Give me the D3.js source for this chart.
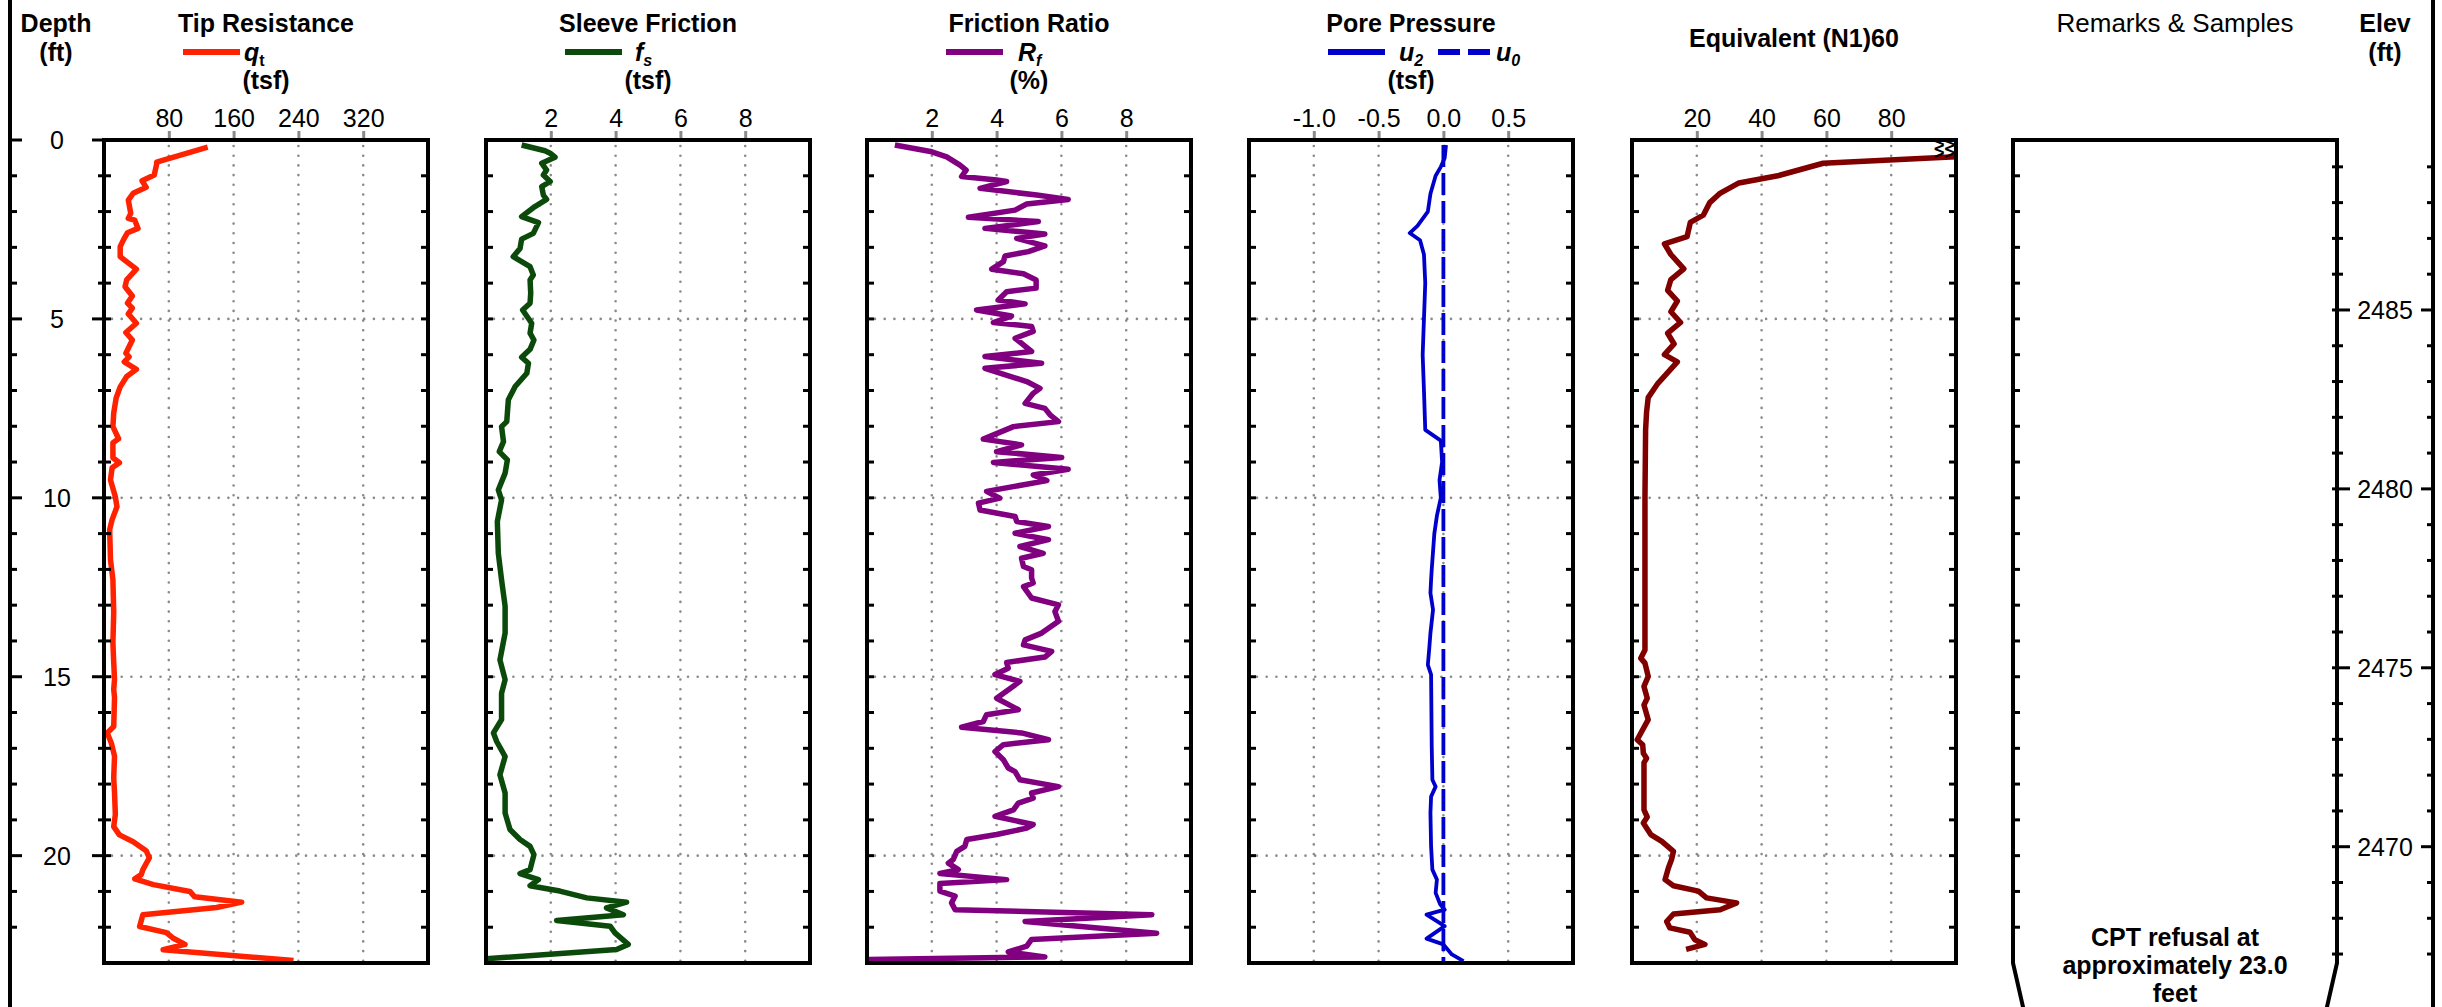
<!DOCTYPE html>
<html>
<head>
<meta charset="utf-8">
<script src="https://cdn.jsdelivr.net/npm/d3@7"></script>
<style>
  body { margin: 0; background: #fff; }
  text { font-family: "Liberation Sans", Arial, sans-serif; }
</style>
</head>
<body>
<div id="chart"></div>
<script>
var width = 2442, height = 1007;
var maxDepth = 23;
var groundElev = 2489.75;

// depth / elevation ticks
var depthLabels = [0, 5, 10, 15, 20];
var elevLabels = [2485, 2480, 2475, 2470];

// each series is [depth (ft), value]
var qt = [[0.2,128],[0.62,65],[0.67,65],[0.98,62],[1.14,47],[1.32,52],[1.49,36],[1.68,30],[2.05,33],[2.19,30],[2.24,38],[2.47,42],[2.59,29],[2.79,24],[2.98,20],[3.26,20],[3.35,25],[3.61,40],[3.91,28],[4.10,26],[4.36,35],[4.56,29],[4.70,35],[4.86,30],[5.12,40],[5.38,27],[5.59,35],[5.96,27],[6.06,31],[6.20,25],[6.41,40],[6.61,28],[6.90,20],[7.21,15],[7.63,12],[8.01,11],[8.35,18],[8.46,11],[8.88,11],[9.02,19],[9.16,10],[9.50,8],[9.97,14],[10.25,16],[10.61,10],[10.89,7],[11.73,8],[12.29,11],[13.2,12],[14.05,11],[14.6,12],[15.08,13],[15.35,12],[15.58,13],[16.39,12],[16.57,4],[16.85,9],[17.22,13],[17.82,12],[18.24,13],[18.85,14],[19.19,12],[19.42,19],[19.61,36],[19.86,52],[20.06,56],[20.39,48],[20.53,46],[20.65,38],[20.81,61],[21.0,106],[21.15,112],[21.3,170],[21.45,139],[21.65,48],[21.98,44],[22.15,77],[22.3,85],[22.48,100],[22.63,73],[22.93,234]];

var fs = [[0.14,1.10],[0.30,1.82],[0.37,1.98],[0.48,2.13],[0.65,1.72],[0.84,1.87],[0.98,1.77],[1.16,1.98],[1.30,1.72],[1.54,1.77],[1.66,1.87],[1.86,1.51],[2.14,1.10],[2.31,1.62],[2.61,1.46],[2.77,1.10],[3.03,1.05],[3.26,0.84],[3.54,1.36],[3.77,1.46],[3.91,1.36],[4.28,1.38],[4.56,1.36],[4.75,1.13],[5.12,1.41],[5.40,1.36],[5.59,1.48],[5.85,1.36],[6.07,1.10],[6.24,1.31],[6.52,1.26],[6.89,0.90],[7.26,0.69],[7.87,0.64],[8.01,0.48],[8.43,0.54],[8.71,0.41],[8.94,0.66],[9.31,0.59],[9.78,0.38],[10.06,0.48],[10.66,0.35],[11.55,0.38],[12.29,0.48],[13.03,0.59],[13.78,0.59],[14.53,0.43],[15.08,0.59],[15.46,0.48],[16.20,0.48],[16.57,0.23],[16.81,0.33],[17.23,0.59],[17.74,0.43],[18.25,0.59],[18.81,0.59],[19.27,0.74],[19.55,1.05],[19.74,1.36],[19.97,1.48],[20.39,1.36],[20.50,1.05],[20.67,1.62],[20.84,1.36],[20.99,2.28],[21.18,3.11],[21.30,4.34],[21.46,3.72],[21.65,4.24],[21.81,2.18],[21.97,3.83],[22.16,3.98],[22.48,4.39],[22.62,4.03],[22.88,0.0]];

var rf = [[0.14,0.86],[0.33,2.0],[0.47,2.46],[0.70,2.87],[0.84,3.06],[1.02,2.92],[1.12,4.0],[1.16,4.31],[1.35,3.49],[1.54,5.24],[1.66,6.21],[1.79,4.93],[1.96,4.57],[2.16,3.13],[2.28,5.29],[2.47,3.64],[2.63,5.49],[2.75,4.62],[2.96,5.49],[3.12,4.98],[3.24,4.26],[3.40,4.21],[3.61,3.85],[3.74,4.83],[3.91,5.22],[4.14,5.22],[4.24,4.31],[4.47,4.05],[4.58,4.88],[4.75,3.38],[4.92,4.46],[5.10,3.90],[5.21,5.08],[5.35,5.13],[5.54,4.57],[5.91,5.08],[6.05,3.64],[6.24,5.39],[6.38,3.64],[6.75,4.93],[6.94,5.34],[7.08,5.13],[7.36,4.88],[7.50,5.49],[7.68,5.65],[7.87,5.91],[8.01,4.52],[8.36,3.59],[8.52,4.77],[8.71,4.00],[8.87,6.01],[9.01,3.90],[9.20,6.21],[9.36,5.13],[9.52,5.55],[9.82,3.69],[10.01,4.10],[10.15,3.44],[10.34,3.49],[10.52,4.57],[10.66,4.62],[10.80,5.60],[10.99,4.57],[11.17,5.60],[11.36,4.72],[11.55,5.44],[11.69,4.77],[11.92,4.83],[12.01,5.08],[12.24,5.08],[12.38,5.13],[12.48,4.83],[12.80,5.08],[12.99,5.91],[13.18,5.80],[13.45,5.91],[13.78,5.39],[13.97,4.88],[14.11,4.83],[14.29,5.70],[14.45,5.49],[14.60,4.31],[14.76,4.36],[14.94,3.95],[15.13,4.72],[15.60,4.00],[15.92,4.67],[16.06,3.69],[16.25,3.59],[16.41,2.92],[16.57,4.77],[16.76,5.60],[16.90,4.21],[17.09,3.95],[17.32,4.21],[17.55,4.36],[17.65,4.57],[17.88,4.72],[18.07,5.91],[18.25,5.08],[18.39,5.13],[18.53,4.67],[18.72,4.52],[18.90,3.95],[19.13,5.13],[19.23,4.93],[19.41,4.00],[19.55,3.08],[19.74,3.02],[19.88,2.77],[20.11,2.66],[20.21,2.51],[20.39,2.82],[20.50,2.25],[20.67,4.31],[20.78,2.25],[20.99,2.25],[21.13,2.72],[21.32,2.61],[21.51,2.72],[21.65,8.79],[21.84,4.88],[22.17,8.94],[22.34,5.08],[22.53,4.93],[22.69,4.36],[22.83,5.49],[22.9,0.04]];

var u2 = [[0.14,0.02],[0.5,0.01],[0.75,-0.02],[1.0,-0.06],[1.5,-0.10],[2.0,-0.12],[2.4,-0.20],[2.6,-0.26],[2.8,-0.18],[3.2,-0.15],[4.0,-0.14],[5.0,-0.15],[6.0,-0.16],[7.0,-0.15],[8.1,-0.14],[8.4,-0.02],[9.0,-0.01],[9.5,-0.03],[10.0,-0.02],[10.5,-0.05],[11.0,-0.07],[12.0,-0.09],[12.29,-0.095],[12.66,-0.10],[13.13,-0.08],[13.78,-0.10],[14.25,-0.11],[14.67,-0.12],[14.94,-0.095],[16.95,-0.09],[17.88,-0.085],[18.07,-0.06],[18.35,-0.095],[18.81,-0.10],[19.74,-0.095],[20.39,-0.085],[20.67,-0.05],[21.04,-0.06],[21.36,-0.025],[21.51,0.01],[21.65,-0.13],[21.97,0.01],[22.32,-0.13],[22.48,0.0],[22.76,0.065],[22.95,0.155]];

var u0 = [[0.14,0.0],[22.95,0.0]];

var n160 = [[0.47,100],[0.65,59],[1.0,45],[1.2,33],[1.5,27],[1.75,24],[2.1,22],[2.3,18],[2.7,17],[2.9,10],[3.2,12],[3.6,16],[3.9,12],[4.2,11],[4.5,14],[4.8,12],[5.1,15],[5.4,11],[5.7,13],[6.0,10],[6.2,14],[6.5,11],[6.8,8],[7.2,5],[7.6,4.5],[8.1,4.2],[10.0,4.0],[12.29,4.0],[14.25,4.0],[14.48,2.7],[14.62,4.0],[14.99,5.0],[15.27,3.7],[15.60,4.7],[15.79,3.7],[16.20,5.0],[16.76,1.6],[16.90,3.3],[17.14,3.5],[17.28,4.5],[17.40,3.7],[18.72,3.7],[18.92,4.7],[19.09,3.5],[19.41,5.8],[19.60,9.2],[19.88,12.8],[20.11,12.2],[20.35,11.2],[20.67,10.2],[20.84,12.8],[20.99,20.5],[21.18,23.0],[21.32,32.3],[21.51,27.2],[21.63,12.8],[21.84,10.7],[22.02,11.7],[22.14,17.9],[22.35,19.4],[22.48,22.5],[22.62,16.7]];

var remarkLines = ["CPT refusal at", "approximately 23.0", "feet"];

var panelW = 324, plotTop = 140;
var y = d3.scaleLinear().domain([0, maxDepth]).range([140, 963]);
var yElev = function(e) { return y(groundElev - e); };

var panels = [
  { title: "Tip Resistance", x0: 104, domain: [0, 400], ticks: [80, 160, 240, 320], fmt: d3.format("d"),
    unit: "(tsf)", series: [{ data: qt, color: "#ff2200", w: 5.5 }],
    legend: [{ sym: "q", sub: "t", subItalic: false, color: "#ff2200", lx: -22 }] },
  { title: "Sleeve Friction", x0: 486, domain: [0, 10], ticks: [2, 4, 6, 8], fmt: d3.format("d"),
    unit: "(tsf)", series: [{ data: fs, color: "#0b4a0b", w: 5.5 }],
    legend: [{ sym: "f", sub: "s", subItalic: true, color: "#0b4a0b", lx: -13 }] },
  { title: "Friction Ratio", x0: 867, domain: [0, 10], ticks: [2, 4, 6, 8], fmt: d3.format("d"),
    unit: "(%)", series: [{ data: rf, color: "#800080", w: 5.5 }],
    legend: [{ sym: "R", sub: "f", subItalic: true, color: "#800080", lx: -11 }] },
  { title: "Pore Pressure", x0: 1249, domain: [-1.5, 1.0], ticks: [-1.0, -0.5, 0.0, 0.5], fmt: function(d) { return d.toFixed(1); },
    unit: "(tsf)", series: [{ data: u2, color: "#0000cc", w: 3.8 }, { data: u0, color: "#0000cc", w: 3.8, dash: "22,6" }],
    legend: [{ sym: "u", sub: "2", subItalic: true, color: "#0000cc", lx: -12 },
             { sym: "u", sub: "0", subItalic: true, color: "#0000cc", lx: 85, dash: "22,8", off: 110 }] },
  { title: "Equivalent (N1)60", x0: 1632, domain: [0, 100], ticks: [20, 40, 60, 80], fmt: d3.format("d"),
    unit: null, series: [{ data: n160, color: "#800000", w: 5.5 }], legend: [], titleY: 47 }
];

var svg = d3.select("#chart").append("svg")
  .attr("width", width)
  .attr("height", height)
  .style("display", "block");

var defs = svg.append("defs");

function dotted(sel) {
  sel.attr("stroke", "#8a8a8a").attr("stroke-width", 2.6)
    .attr("stroke-dasharray", "0,9.7").attr("stroke-linecap", "round");
}

// depth ticks helper: short black ticks on a vertical border
function depthTicks(g, x, dir, len, majorLen) {
  d3.range(0, 23).forEach(function(d) {
    var l = (d % 5 == 0) ? majorLen : len;
    g.append("line")
      .attr("x1", x).attr("x2", x + dir * l)
      .attr("y1", y(d)).attr("y2", y(d))
      .attr("stroke", "#000").attr("stroke-width", 3);
  });
}

panels.forEach(function(p, i) {
  var x = d3.scaleLinear().domain(p.domain).range([p.x0, p.x0 + panelW]);
  var cx = p.x0 + panelW / 2;
  var g = svg.append("g");

  // header
  g.append("text").attr("x", cx).attr("y", p.titleY || 32)
    .attr("text-anchor", "middle").attr("font-size", 25).attr("font-weight", "bold")
    .text(p.title);

  p.legend.forEach(function(l) {
    var off = l.off || 0;
    g.append("line")
      .attr("x1", cx - 83 + off).attr("x2", cx - 26 + off)
      .attr("y1", 52).attr("y2", 52)
      .attr("stroke", l.color).attr("stroke-width", 6)
      .attr("stroke-dasharray", l.dash || null);
    var t = g.append("text").attr("x", cx + l.lx).attr("y", 61)
      .attr("font-size", 25).attr("font-weight", "bold");
    t.append("tspan").attr("font-style", "italic").text(l.sym);
    t.append("tspan").attr("font-size", 16).attr("dy", 5)
      .attr("font-style", l.subItalic ? "italic" : "normal").text(l.sub);
  });

  if (p.unit) {
    g.append("text").attr("x", cx).attr("y", 89)
      .attr("text-anchor", "middle").attr("font-size", 25).attr("font-weight", "bold")
      .text(p.unit);
  }

  // top axis
  var ax = g.append("g").attr("transform", "translate(0," + plotTop + ")")
    .call(d3.axisTop(x).tickValues(p.ticks).tickFormat(p.fmt).tickSize(9).tickPadding(4));
  ax.select(".domain").remove();
  ax.selectAll(".tick line").attr("stroke", "#8a8a8a").attr("stroke-width", 3);
  ax.selectAll(".tick text").attr("font-size", 25).attr("fill", "#000")
    .style("font-family", "'Liberation Sans', Arial, sans-serif");

  // grid
  g.selectAll(".vg").data(p.ticks).enter().append("line")
    .attr("x1", function(d) { return x(d); }).attr("x2", function(d) { return x(d); })
    .attr("y1", y(0) + 6).attr("y2", y(maxDepth)).call(dotted);
  g.selectAll(".hg").data([5, 10, 15, 20]).enter().append("line")
    .attr("x1", p.x0 + 8).attr("x2", p.x0 + panelW - 6)
    .attr("y1", function(d) { return y(d); }).attr("y2", function(d) { return y(d); })
    .call(dotted);

  // data
  defs.append("clipPath").attr("id", "clip" + i).append("rect")
    .attr("x", p.x0).attr("y", y(0)).attr("width", panelW).attr("height", y(maxDepth) - y(0));
  var line = d3.line().x(function(d) { return x(d[1]); }).y(function(d) { return y(d[0]); });
  p.series.forEach(function(s) {
    g.append("path").datum(s.data)
      .attr("clip-path", "url(#clip" + i + ")")
      .attr("d", line)
      .attr("fill", "none").attr("stroke", s.color).attr("stroke-width", s.w)
      .attr("stroke-linejoin", "round")
      .attr("stroke-dasharray", s.dash || null);
  });

  // border and depth ticks
  g.append("rect").attr("x", p.x0).attr("y", y(0))
    .attr("width", panelW).attr("height", y(maxDepth) - y(0))
    .attr("fill", "none").attr("stroke", "#000").attr("stroke-width", 4);
  depthTicks(g, p.x0, 1, 7, 7);
  depthTicks(g, p.x0 + panelW, -1, 7, 7);
  if (i == 0) depthTicks(g, p.x0, -1, 6, 12);
});

// off-scale markers on (N1)60
svg.append("text").attr("x", 1955).attr("y", 151).attr("text-anchor", "end")
  .attr("font-size", 18).attr("font-weight", "bold").text(">>");
svg.append("text").attr("x", 1955).attr("y", 159).attr("text-anchor", "end")
  .attr("font-size", 18).attr("font-weight", "bold").text(">>");

// depth axis on the far left
svg.append("line").attr("x1", 10).attr("x2", 10).attr("y1", 0).attr("y2", height)
  .attr("stroke", "#000").attr("stroke-width", 4);
depthTicks(svg, 10, 1, 7, 12);
svg.append("text").attr("x", 56).attr("y", 32).attr("text-anchor", "middle")
  .attr("font-size", 25).attr("font-weight", "bold").text("Depth");
svg.append("text").attr("x", 56).attr("y", 61).attr("text-anchor", "middle")
  .attr("font-size", 25).attr("font-weight", "bold").text("(ft)");
svg.selectAll(".dl").data(depthLabels).enter().append("text")
  .attr("x", 57).attr("y", function(d) { return y(d) + 9; })
  .attr("text-anchor", "middle").attr("font-size", 25).text(function(d) { return d; });

// remarks & samples column
var rx0 = 2013, rx1 = 2337;
svg.append("text").attr("x", (rx0 + rx1) / 2).attr("y", 32).attr("text-anchor", "middle")
  .attr("font-size", 26).text("Remarks & Samples");
svg.append("path")
  .attr("d", "M" + (rx0 + 13) + "," + (height + 13) + "L" + rx0 + "," + y(maxDepth) + "L" + rx0 + "," + y(0) +
       "L" + rx1 + "," + y(0) + "L" + rx1 + "," + y(maxDepth) + "L" + (rx1 - 13) + "," + (height + 13))
  .attr("fill", "none").attr("stroke", "#000").attr("stroke-width", 4);
depthTicks(svg, rx0, 1, 7, 7);
remarkLines.forEach(function(t, k) {
  svg.append("text").attr("x", (rx0 + rx1) / 2).attr("y", 946 + k * 28)
    .attr("text-anchor", "middle").attr("font-size", 25).attr("font-weight", "bold").text(t);
});

// elevation axis on the far right
var ex = 2433;
svg.append("line").attr("x1", ex).attr("x2", ex).attr("y1", 0).attr("y2", height)
  .attr("stroke", "#000").attr("stroke-width", 4);
d3.range(2467, 2490).forEach(function(e) {
  var major = e % 5 == 0;
  svg.append("line").attr("x1", ex).attr("x2", ex - (major ? 12 : 6))
    .attr("y1", yElev(e)).attr("y2", yElev(e)).attr("stroke", "#000").attr("stroke-width", 3);
  svg.append("line").attr("x1", rx1 - 5).attr("x2", rx1 + (major ? 13 : 6))
    .attr("y1", yElev(e)).attr("y2", yElev(e)).attr("stroke", "#000").attr("stroke-width", 3);
});
svg.selectAll(".el").data(elevLabels).enter().append("text")
  .attr("x", 2385).attr("y", function(d) { return yElev(d) + 9; })
  .attr("text-anchor", "middle").attr("font-size", 25).text(function(d) { return d; });
svg.append("text").attr("x", 2385).attr("y", 32).attr("text-anchor", "middle")
  .attr("font-size", 25).attr("font-weight", "bold").text("Elev");
svg.append("text").attr("x", 2385).attr("y", 61).attr("text-anchor", "middle")
  .attr("font-size", 25).attr("font-weight", "bold").text("(ft)");
</script>
</body>
</html>
